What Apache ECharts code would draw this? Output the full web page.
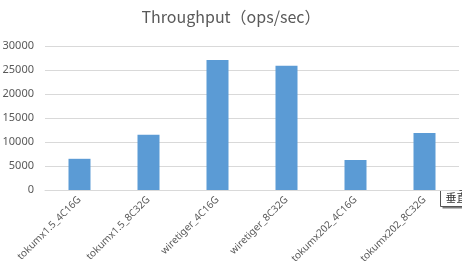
<!DOCTYPE html>
<html>
<head>
<meta charset="utf-8">
<script src="https://cdn.jsdelivr.net/npm/echarts@6/dist/echarts.min.js"></script>
<style>
  html, body { margin: 0; padding: 0; background: #fff; }
  #chart { width: 462px; height: 277px; }
</style>
</head>
<body>
<div id="chart"></div>
<script>
// data
const categories = ['tokumx1.5_4C16G', 'tokumx1.5_8C32G', 'wiretiger_4C16G', 'wiretiger_8C32G', 'tokumx202_4C16G', 'tokumx202_8C32G']
const throughput = [6500, 11500, 27100, 25900, 6250, 11900]
const yTicks = { min: 0, max: 30000, interval: 5000 }

const textColor = '#595959'
const chart = echarts.init(document.getElementById('chart'))

chart.setOption({
  animation: false,
  title: {
    text: 'Throughput（ops/sec）',
    left: 'center',
    top: 4,
    textStyle: {
      fontFamily: 'Noto Sans CJK SC',
      fontSize: 16,
      fontWeight: 'normal',
      color: textColor,
    },
  },
  grid: { left: 45, right: 3, top: 46, bottom: 87, outerBoundsMode: 'none', containLabel: false },
  xAxis: {
    type: 'category',
    data: categories,
    axisLine: { lineStyle: { color: '#d9d9d9' } },
    axisTick: { show: false },
    axisLabel: {
      rotate: 45,
      interval: 0,
      margin: 8,
      color: textColor,
      fontSize: 10,
      fontFamily: 'Noto Sans',
    },
  },
  yAxis: {
    type: 'value',
    min: yTicks.min,
    max: yTicks.max,
    interval: yTicks.interval,
    axisLine: { show: false },
    axisTick: { show: false },
    splitLine: { lineStyle: { color: '#d9d9d9' } },
    axisLabel: {
      margin: 11,
      color: textColor,
      fontSize: 11,
      fontFamily: 'Noto Sans',
      formatter: (v) => String(v),
    },
  },
  series: [
    {
      type: 'bar',
      data: throughput,
      barWidth: 22,
      itemStyle: { color: '#5b9bd5' },
    },
  ],
  // leftover excel hover tip in the bottom right corner
  graphic: [
    {
      type: 'group',
      left: 440,
      top: 190,
      children: [
        { type: 'rect', shape: { x: 2, y: 2, width: 60, height: 16 }, style: { fill: '#7f7f7f' } },
        { type: 'rect', shape: { x: 0, y: 0, width: 60, height: 16 }, style: { fill: '#fff', stroke: '#555', lineWidth: 1 } },
        { type: 'text', x: 5, y: 2, style: { text: '垂直 (值) 轴', fontSize: 11, fontFamily: 'Noto Sans CJK SC', fill: '#333' } },
      ],
    },
  ],
})
</script>
</body>
</html>
